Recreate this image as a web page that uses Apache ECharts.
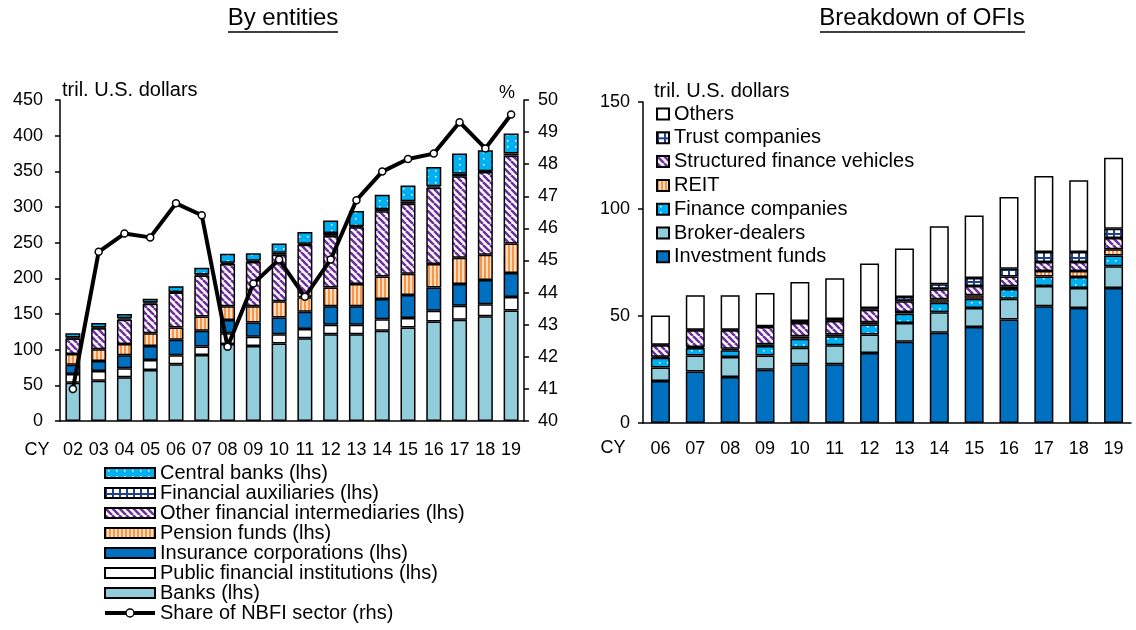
<!DOCTYPE html>
<html>
<head>
<meta charset="utf-8">
<script src="https://cdn.jsdelivr.net/npm/echarts@6/dist/echarts.min.js"></script>
<style>
html, body { margin: 0; padding: 0; background: #fff; }
#main { width: 1136px; height: 630px; }
</style>
</head>
<body>
<div id="main"></div>
<script>
// left panel : by entities (tril. U.S. dollars, share in %)
var years_left = ['02','03','04','05','06','07','08','09','10','11','12','13','14','15','16','17','18','19'];
var banks      = [53.5, 56.5, 61.5, 71.5, 79.5, 92.5, 108, 105, 108.5, 116, 121.5, 121.5, 126.5, 131, 139.5, 142, 147, 155];
var public_fi  = [12.5, 13.5, 12.5, 14, 12.5, 12, 15, 13, 13, 13, 13.5, 13.5, 16, 13.5, 15, 19.5, 16.5, 19];
var insurance  = [13, 14, 18, 19.5, 22, 22, 18.5, 20, 23.5, 24, 26, 26, 28.5, 32, 32.5, 30.5, 34, 33.5];
var pension    = [15, 16.5, 16, 18, 17, 20, 19.5, 23, 23, 20.5, 26, 31, 31.5, 30, 33, 37, 35.5, 41.5];
var ofi        = [21.5, 29.5, 34, 41.5, 49, 57.5, 59, 62, 65, 73.5, 72.5, 79.5, 91.5, 98, 107, 114, 116, 123];
var auxiliary  = [1.5, 1, 2, 1.5, 1, 1.5, 2, 1.5, 3, 1.5, 4, 1.5, 3, 3.5, 2, 3.5, 1, 3];
var central    = [6, 6.5, 6, 5.5, 8, 9.5, 12.5, 10.5, 13, 16.5, 17.5, 21.5, 20, 22, 27, 28.5, 29.5, 28];
var nbfi_share = [41.0, 45.27, 45.84, 45.72, 46.78, 46.41, 42.31, 44.28, 45.03, 43.87, 45.03, 46.88, 47.77, 48.16, 48.33, 49.31, 48.49, 49.55];

// right panel : breakdown of OFIs
var years_right = ['06','07','08','09','10','11','12','13','14','15','16','17','18','19'];
var inv_funds   = [19.6, 24.1, 21.5, 24.9, 27.4, 27.4, 32.7, 38, 42.2, 44.9, 48.4, 54.5, 53.7, 63.1];
var broker      = [6.3, 7.5, 9.3, 6.7, 7.8, 8.9, 8.7, 8.7, 9.5, 8.8, 9.7, 9.5, 9.4, 10.1];
var finance_co  = [4.6, 3.4, 3.2, 4.4, 4.2, 4.2, 4.6, 4.4, 4.5, 4.4, 4.5, 4.5, 5.1, 5.1];
var reit        = [0.5, 0.5, 0.7, 0.8, 1.1, 0.9, 1.1, 0.8, 1.6, 1.6, 1.3, 2.5, 2.8, 2.9];
var sfv         = [5.3, 7.8, 8.6, 8.1, 6.2, 6.3, 5.8, 5, 4.7, 4.3, 4.6, 4.2, 4.2, 5.2];
var trust       = [0.3, 0.3, 0.3, 0.3, 1, 0.9, 0.8, 2, 2.3, 3.8, 3.6, 4.7, 4.7, 4.4];
var others      = [13.6, 16.1, 16.1, 15.5, 18.2, 19, 20.8, 22.6, 27.1, 29.2, 33.5, 35.5, 33.5, 33.2];

var FONT = 'Liberation Sans, Arial, sans-serif';

// 塗りパターン
function tile(w, h, draw) {
	var c = document.createElement('canvas');
	c.width = w; c.height = h;
	draw(c.getContext('2d'));
	return { image: c, repeat: 'repeat' };
}
var pat_dots = tile(8, 6, function (g) {
	g.fillStyle = '#00b0f0'; g.fillRect(0, 0, 8, 6);
	g.fillStyle = '#ffffff'; g.fillRect(3, 2, 1.5, 1.5);
});
var pat_grid = tile(7, 6, function (g) {
	g.fillStyle = '#203f8c'; g.fillRect(0, 0, 7, 6);
	g.fillStyle = '#ffffff'; g.fillRect(2, 1, 5, 4);
});
var pat_diag = tile(7, 7, function (g) {
	g.fillStyle = '#ffffff'; g.fillRect(0, 0, 7, 7);
	g.strokeStyle = '#7030a0'; g.lineWidth = 2.6;
	g.beginPath();
	for (var k = -7; k <= 7; k += 7) { g.moveTo(k, 0); g.lineTo(k + 7, 7); }
	g.stroke();
});
var pat_vert = tile(4, 2, function (g) {
	g.fillStyle = '#fddcbf'; g.fillRect(0, 0, 4, 2);
	g.fillStyle = '#f79646'; g.fillRect(0, 0, 2, 2);
});

function bar(name, data, color, xi, stack, bw) {
	return {
		name: name, type: 'bar', stack: stack, data: data,
		xAxisIndex: xi, yAxisIndex: xi == 0 ? 0 : 2,
		barWidth: bw,
		itemStyle: { color: color, borderColor: '#000', borderWidth: 1.5 }
	};
}

var myChart = echarts.init(document.getElementById('main'));

var axisLine = { lineStyle: { color: '#000', width: 1.5 } };
var axisTick = { inside: false, length: 5, lineStyle: { color: '#000', width: 1.5 } };

var option = {
	animation: false,
	textStyle: { fontFamily: FONT, color: '#000' },
	grid: [
		{ left: 60, right: 612, top: 100, bottom: 209 },
		{ left: 643, right: 5, top: 102, bottom: 207 }
	],
	xAxis: [
		{ gridIndex: 0, type: 'category', data: years_left, axisLine: axisLine, axisTick: axisTick,
		  axisLabel: { interval: 0, fontSize: 18, color: '#000', margin: 20, fontFamily: FONT } },
		{ gridIndex: 1, type: 'category', data: years_right, axisLine: axisLine, axisTick: axisTick,
		  axisLabel: { interval: 0, fontSize: 18, color: '#000', margin: 17, fontFamily: FONT } }
	],
	yAxis: [
		{ gridIndex: 0, type: 'value', min: 0, max: 450, interval: 50, axisLine: { show: true, lineStyle: axisLine.lineStyle },
		  axisTick: { show: true, length: 5, lineStyle: axisTick.lineStyle }, splitLine: { show: false },
		  axisLabel: { fontSize: 18, color: '#000', margin: 17, fontFamily: FONT } },
		{ gridIndex: 0, type: 'value', position: 'right', min: 40, max: 50, interval: 1, axisLine: { show: true, lineStyle: axisLine.lineStyle },
		  axisTick: { show: true, length: 5, lineStyle: axisTick.lineStyle }, splitLine: { show: false },
		  axisLabel: { fontSize: 18, color: '#000', margin: 14, fontFamily: FONT } },
		{ gridIndex: 1, type: 'value', min: 0, max: 150, interval: 50, axisLine: { show: true, lineStyle: axisLine.lineStyle },
		  axisTick: { show: true, length: 5, lineStyle: axisTick.lineStyle }, splitLine: { show: false },
		  axisLabel: { fontSize: 18, color: '#000', margin: 13, fontFamily: FONT } }
	],
	legend: [
		{
			orient: 'vertical', left: 103, top: 463, padding: 0, itemWidth: 50, itemHeight: 10, itemGap: 0,
			textStyle: { fontSize: 20, lineHeight: 20, color: '#000', fontFamily: FONT },
			data: [
				{ name: 'Central banks (lhs)', icon: 'rect' },
				{ name: 'Financial auxiliaries (lhs)', icon: 'rect' },
				{ name: 'Other financial intermediaries (lhs)', icon: 'rect' },
				{ name: 'Pension funds (lhs)', icon: 'rect' },
				{ name: 'Insurance corporations (lhs)', icon: 'rect' },
				{ name: 'Public financial institutions (lhs)', icon: 'rect' },
				{ name: 'Banks (lhs)', icon: 'rect' },
				{ name: 'Share of NBFI sector (rhs)', lineStyle: { color: '#000', width: 4 },
				  itemStyle: { color: '#fff', borderColor: '#000', borderWidth: 1.5 } }
			]
		},
		{
			orient: 'vertical', left: 656, top: 104, padding: 0, itemWidth: 12, itemHeight: 11, itemGap: 3.8,
			textStyle: { fontSize: 20, lineHeight: 20, color: '#000', fontFamily: FONT },
			data: [
				{ name: 'Others', icon: 'rect' },
				{ name: 'Trust companies', icon: 'rect' },
				{ name: 'Structured finance vehicles', icon: 'rect' },
				{ name: 'REIT', icon: 'rect' },
				{ name: 'Finance companies', icon: 'rect' },
				{ name: 'Broker-dealers', icon: 'rect' },
				{ name: 'Investment funds', icon: 'rect' }
			]
		}
	],
	graphic: [
		{ type: 'text', style: { text: 'By entities', x: 283, y: 18, align: 'center', verticalAlign: 'middle', font: '24px ' + FONT, fill: '#000' } },
		{ type: 'line', shape: { x1: 228, y1: 32, x2: 338, y2: 32 }, style: { stroke: '#000', lineWidth: 1.5 } },
		{ type: 'text', style: { text: 'Breakdown of OFIs', x: 922, y: 18, align: 'center', verticalAlign: 'middle', font: '24px ' + FONT, fill: '#000' } },
		{ type: 'line', shape: { x1: 820, y1: 32, x2: 1025, y2: 32 }, style: { stroke: '#000', lineWidth: 1.5 } },
		{ type: 'text', style: { text: 'tril. U.S. dollars', x: 62, y: 90, verticalAlign: 'middle', font: '20px ' + FONT, fill: '#000' } },
		{ type: 'text', style: { text: '%', x: 507, y: 93, align: 'center', verticalAlign: 'middle', font: '18px ' + FONT, fill: '#000' } },
		{ type: 'text', style: { text: 'tril. U.S. dollars', x: 654, y: 91, verticalAlign: 'middle', font: '20px ' + FONT, fill: '#000' } },
		{ type: 'text', style: { text: 'CY', x: 37, y: 450, align: 'center', verticalAlign: 'middle', font: '18px ' + FONT, fill: '#000' } },
		{ type: 'text', style: { text: 'CY', x: 613, y: 448, align: 'center', verticalAlign: 'middle', font: '18px ' + FONT, fill: '#000' } }
	],
	series: [
		bar('Banks (lhs)', banks, '#92cddc', 0, 'L', 15),
		bar('Public financial institutions (lhs)', public_fi, '#ffffff', 0, 'L', 15),
		bar('Insurance corporations (lhs)', insurance, '#0070c0', 0, 'L', 15),
		bar('Pension funds (lhs)', pension, pat_vert, 0, 'L', 15),
		bar('Other financial intermediaries (lhs)', ofi, pat_diag, 0, 'L', 15),
		bar('Financial auxiliaries (lhs)', auxiliary, pat_grid, 0, 'L', 15),
		bar('Central banks (lhs)', central, pat_dots, 0, 'L', 15),
		{
			name: 'Share of NBFI sector (rhs)', type: 'line', data: nbfi_share,
			xAxisIndex: 0, yAxisIndex: 1, z: 5,
			symbol: 'circle', symbolSize: 7,
			lineStyle: { color: '#000', width: 4 },
			itemStyle: { color: '#fff', borderColor: '#000', borderWidth: 1.5 }
		},
		bar('Investment funds', inv_funds, '#0070c0', 1, 'R', 19),
		bar('Broker-dealers', broker, '#92cddc', 1, 'R', 19),
		bar('Finance companies', finance_co, pat_dots, 1, 'R', 19),
		bar('REIT', reit, pat_vert, 1, 'R', 19),
		bar('Structured finance vehicles', sfv, pat_diag, 1, 'R', 19),
		bar('Trust companies', trust, pat_grid, 1, 'R', 19),
		bar('Others', others, '#ffffff', 1, 'R', 19)
	]
};

myChart.setOption(option);
</script>
</body>
</html>
